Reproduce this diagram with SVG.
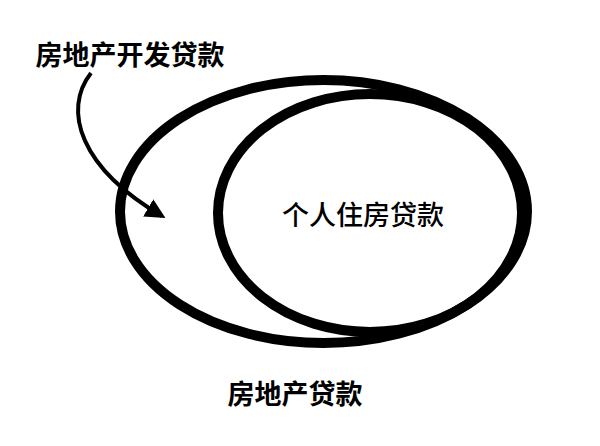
<svg xmlns="http://www.w3.org/2000/svg" width="600" height="446" viewBox="0 0 600 446">
<style>
.ring{fill:none;stroke:#000;stroke-width:10}
.lbl{font-family:"Noto Sans CJK SC","Noto Sans",sans-serif;fill:#000;text-anchor:middle;dominant-baseline:central}
.bold{font-size:27px;font-weight:700}
.reg{font-size:27px;font-weight:500}
.conn{fill:none;stroke:#000;stroke-width:4}
</style>
<defs>
<marker id="ah" markerWidth="6" markerHeight="6" refX="4" refY="2.5" orient="auto" markerUnits="strokeWidth">
<path d="M0,0 L5,2.5 L0,5 Z" fill="#000"/>
</marker>
</defs>
<rect width="600" height="446" fill="#fff"/>
<g id="outer">
<ellipse class="ring" cx="323.5" cy="211.5" rx="203.5" ry="131.5"/>
<text class="lbl bold" x="295" y="392">房地产贷款</text>
</g>
<g id="inner">
<ellipse class="ring" cx="370" cy="213" rx="152" ry="119"/>
<text class="lbl reg" x="363" y="213">个人住房贷款</text>
</g>
<g id="dev">
<text class="lbl bold" x="130" y="53">房地产开发贷款</text>
</g>
<g id="connectors">
<path class="conn" d="M91,73 C62,110 80,168 162,216" marker-end="url(#ah)"/>
</g>
</svg>
